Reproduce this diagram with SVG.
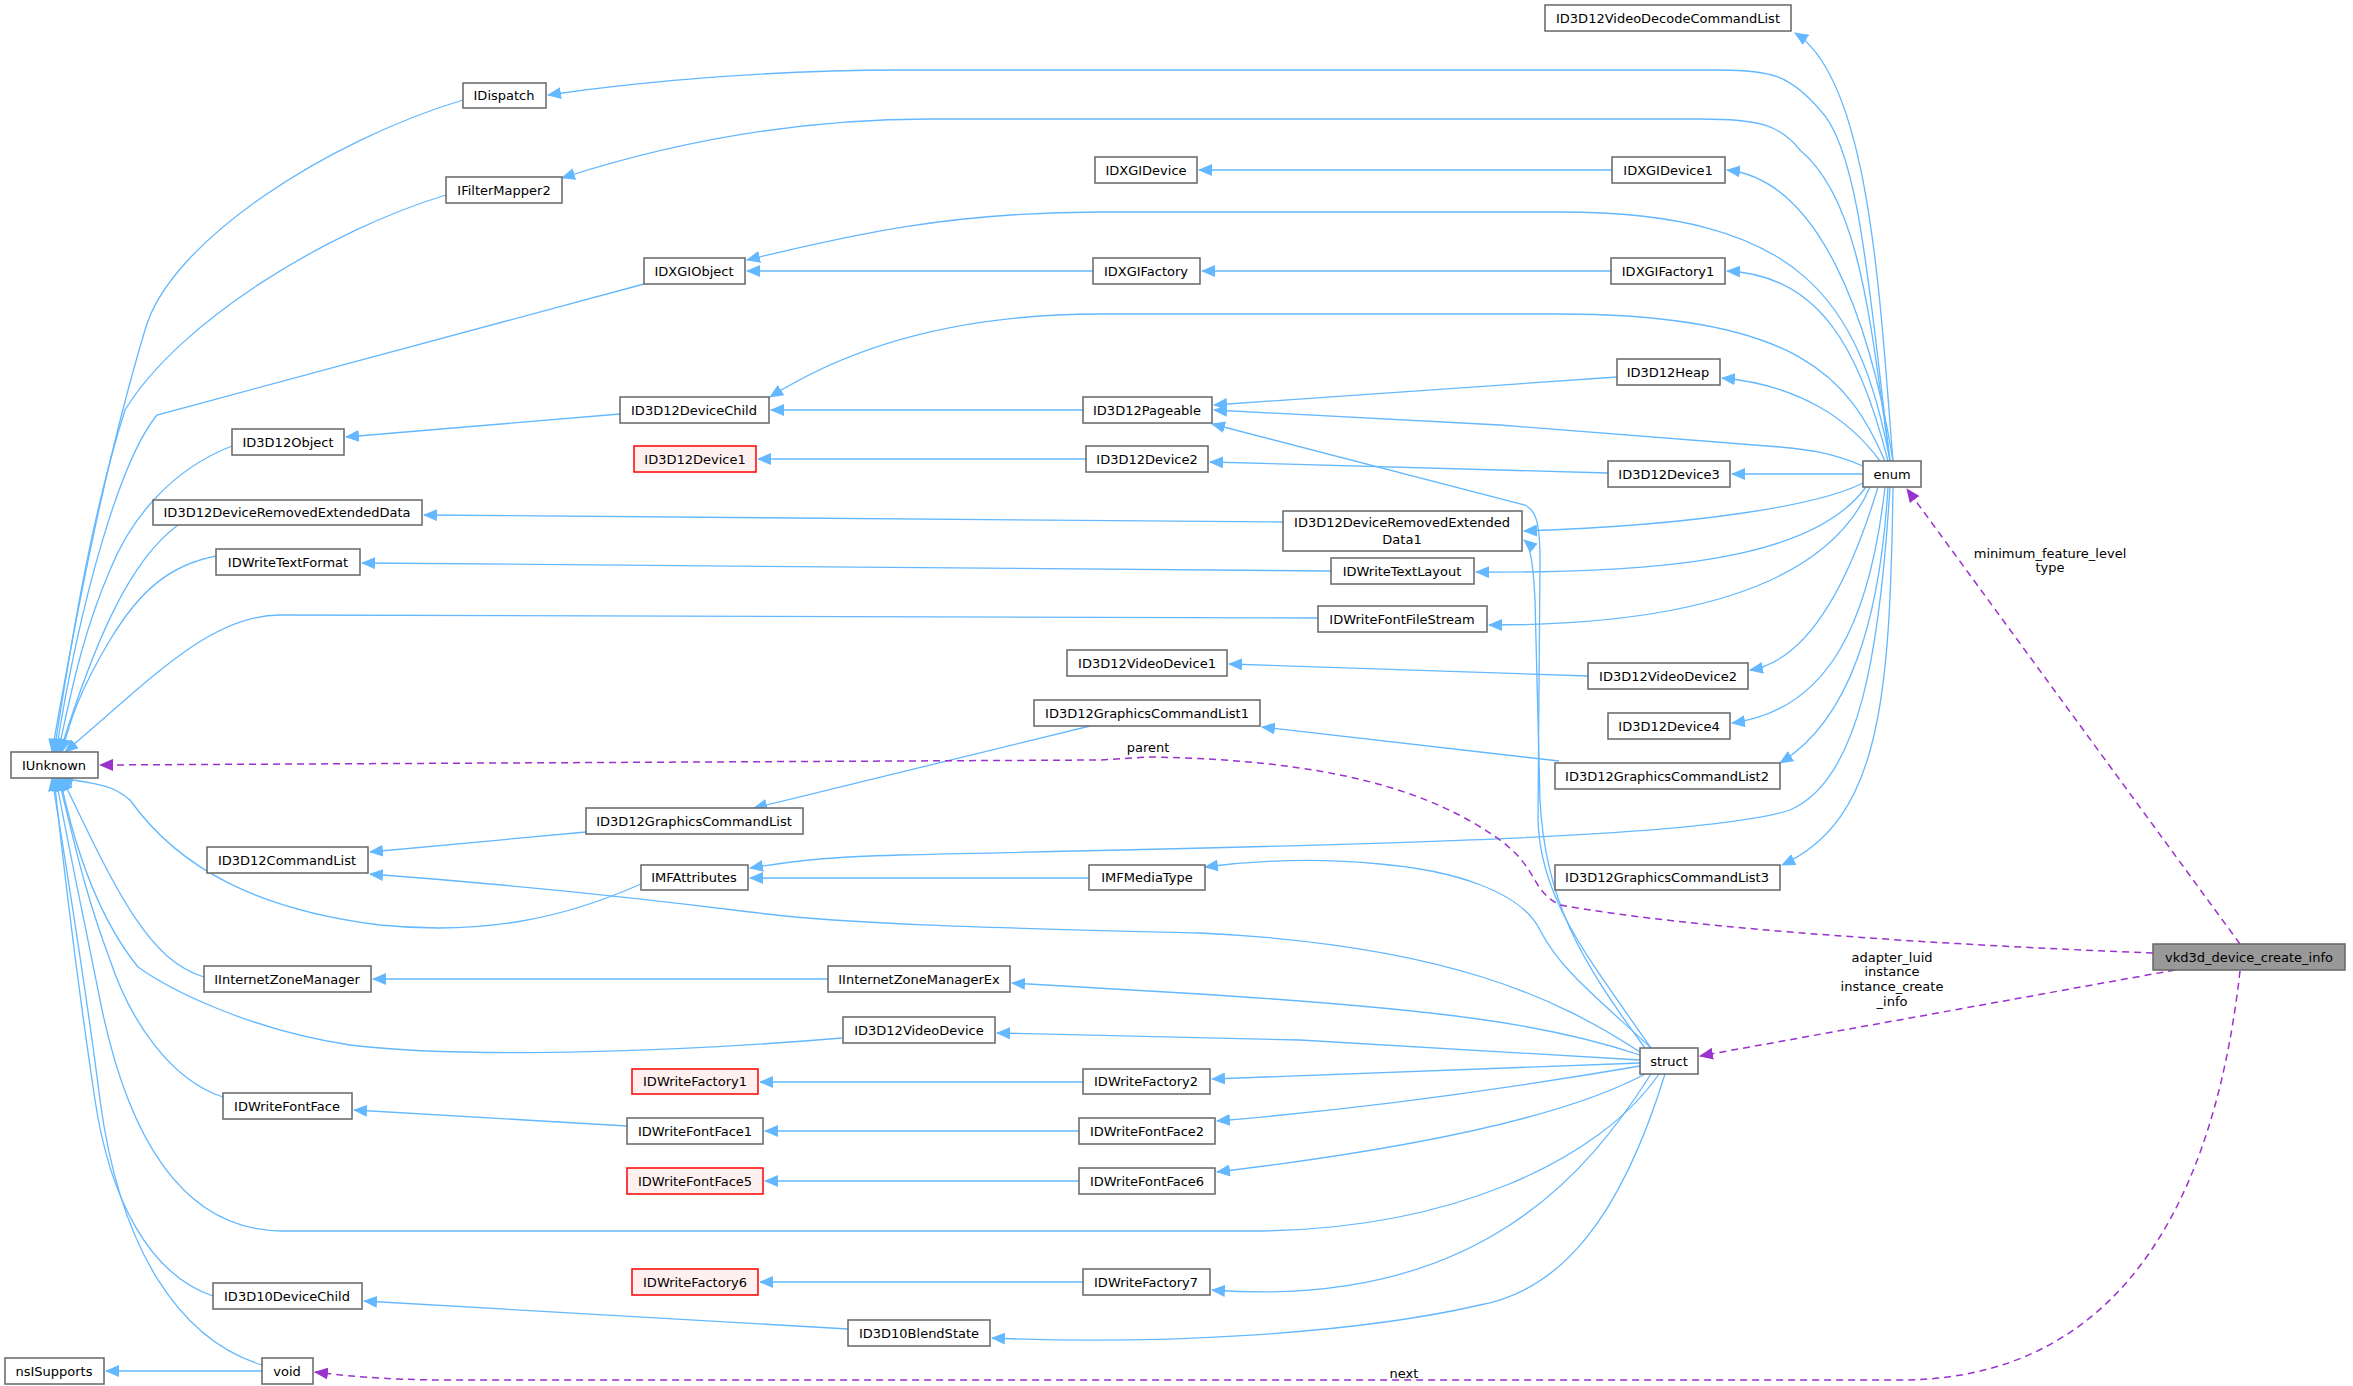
<svg xmlns="http://www.w3.org/2000/svg" width="2353" height="1386" viewBox="0 0 2353 1386">
<style>
.n rect{fill:#fff;stroke:#666;stroke-width:1.5}
.r rect{fill:#fff0f0;stroke:#ff0000;stroke-width:1.5}
.g rect{fill:#999;stroke:#666;stroke-width:1.5}
text{font-family:"DejaVu Sans",sans-serif;font-size:13px;text-anchor:middle;fill:#000}
.e path{fill:none;stroke:#63b8ff;stroke-width:1.3}
.d path{fill:none;stroke:#9a32cd;stroke-width:1.5;stroke-dasharray:7,5}
</style>
<defs>
<marker id="a" markerWidth="14" markerHeight="12" refX="13" refY="6" orient="auto" markerUnits="userSpaceOnUse"><path d="M0,0L14,6L0,12z" fill="#63b8ff"/></marker>
<marker id="p" markerWidth="14" markerHeight="12" refX="13" refY="6" orient="auto" markerUnits="userSpaceOnUse"><path d="M0,0L14,6L0,12z" fill="#9a32cd"/></marker>
</defs>
<rect width="2353" height="1386" fill="#fff"/>
<g class="e" marker-end="url(#a)">
<path d="M1893,461 C1880,300 1870,80 1795,33"/>
<path d="M1890,461 C1870,300 1860,150 1820,110 C1790,75 1770,70 1720,70 L900,70 C780,70 650,80 548,95"/>
<path d="M1890,461 C1870,320 1860,200 1800,150 C1780,125 1760,119 1700,119 L930,119 C800,119 680,140 562,178"/>
<path d="M1893,461 C1870,320 1820,180 1727,170"/>
<path d="M1890,461 C1860,300 1800,212 1560,212 L1100,212 C950,212 850,235 747,260"/>
<path d="M1888,461 C1860,350 1820,275 1727,271"/>
<path d="M1885,461 C1850,380 1800,314 1560,314 L1100,314 C970,314 860,340 770,397"/>
<path d="M1880,461 C1850,420 1800,385 1722,378"/>
<path d="M1863,466 C1830,452 1810,450 1780,447 L1500,425 L1214,410"/>
<path d="M1863,474 L1732,474"/>
<path d="M1863,483 C1820,505 1700,525 1524,531"/>
<path d="M1866,487 C1820,550 1700,574 1476,572"/>
<path d="M1870,487 C1830,580 1700,625 1489,625"/>
<path d="M1878,487 C1850,580 1810,660 1750,670"/>
<path d="M1885,487 C1870,620 1830,710 1732,723"/>
<path d="M1888,487 C1880,620 1850,720 1780,763"/>
<path d="M1890,487 C1880,650 1860,780 1790,810 C1700,840 1300,846 900,855 C830,857 800,860 750,868"/>
<path d="M1893,487 C1890,700 1880,820 1782,865"/>
<path d="M1612,170 L1199,170"/>
<path d="M1611,271 L1202,271"/>
<path d="M1093,271 L747,271"/>
<path d="M1617,377 L1214,405"/>
<path d="M1083,410 L771,410"/>
<path d="M1608,473 L1210,462"/>
<path d="M1086,459 L758,459"/>
<path d="M620,414 L346,437"/>
<path d="M1283,522 L424,515"/>
<path d="M1331,571 L362,563"/>
<path d="M1588,676 L1229,664"/>
<path d="M1559,761 L1262,727"/>
<path d="M1090,726 L754,808"/>
<path d="M586,832 L370,852"/>
<path d="M1089,878 L750,878"/>
<path d="M828,979 L373,979"/>
<path d="M1083,1082 L760,1082"/>
<path d="M627,1126 L354,1110"/>
<path d="M1079,1131 L765,1131"/>
<path d="M1079,1181 L765,1181"/>
<path d="M1083,1282 L760,1282"/>
<path d="M848,1329 L364,1301"/>
<path d="M262,1371 L106,1371"/>
<path d="M463,100 C330,140 170,240 145,330 C100,480 70,650 52,752"/>
<path d="M446,195 C330,230 180,320 125,410 C90,520 70,650 54,752"/>
<path d="M644,284 L157,415 C120,460 80,600 56,752"/>
<path d="M232,446 C170,470 130,520 110,570 C80,640 70,700 58,752"/>
<path d="M178,525 C130,560 95,640 60,752"/>
<path d="M216,556 C170,565 140,590 110,640 C80,690 70,720 62,752"/>
<path d="M1318,618 L280,615 C210,615 150,680 65,752"/>
<path d="M641,884 C560,920 480,935 380,925 C260,910 180,870 130,800 C118,790 112,785 60,778"/>
<path d="M204,977 C150,960 120,900 62,778"/>
<path d="M842,1038 C700,1050 474,1060 350,1045 C250,1030 170,990 138,967 C100,920 75,850 60,778"/>
<path d="M223,1097 C170,1080 130,1020 110,960 C80,880 70,820 58,778"/>
<path d="M1659,1074 C1600,1160 1450,1231 1250,1231 L283,1231 C190,1231 130,1150 100,1000 C80,900 65,830 56,778"/>
<path d="M213,1296 C150,1275 110,1200 95,1100 C80,1000 65,880 54,778"/>
<path d="M262,1365 C180,1340 120,1250 100,1100 C85,980 65,860 52,778"/>
<path d="M1651,1048 C1590,960 1540,900 1538,820 L1540,560 C1540,520 1535,510 1525,505 L1212,424"/>
<path d="M1645,1048 C1580,960 1545,900 1540,800 L1535,600 C1533,560 1530,545 1524,540"/>
<path d="M1651,1048 C1600,1000 1560,970 1540,930 C1520,890 1450,870 1380,864 C1320,858 1260,860 1205,867"/>
<path d="M1640,1052 C1560,1000 1450,945 1200,933 C1000,928 850,925 750,912 C600,893 450,880 370,874"/>
<path d="M1640,1055 C1550,1025 1450,1010 1200,994 L1012,983"/>
<path d="M1640,1060 L1300,1040 L997,1033"/>
<path d="M1640,1063 L1212,1079"/>
<path d="M1640,1066 C1500,1090 1350,1110 1217,1121"/>
<path d="M1645,1074 C1560,1120 1400,1150 1217,1172"/>
<path d="M1651,1074 C1590,1170 1480,1310 1212,1290"/>
<path d="M1665,1074 C1620,1220 1560,1290 1480,1305 C1350,1335 1150,1345 992,1338"/>
</g>
<g class="d" marker-end="url(#p)">
<path d="M2240,944 L1907,489"/>
<path d="M2153,953 C1950,945 1700,930 1560,905 C1530,890 1540,870 1500,840 C1430,790 1330,760 1150,757 L1100,760 L100,765"/>
<path d="M2175,970 L1700,1056"/>
<path d="M2240,971 C2220,1150 2150,1380 1900,1380 L450,1380 C380,1380 340,1375 315,1372"/>
</g>
<g>
<text x="2050" y="558">minimum_feature_level</text>
<text x="2050" y="572">type</text>
<text x="1148" y="752">parent</text>
<text x="1892" y="962">adapter_luid</text>
<text x="1892" y="976">instance</text>
<text x="1892" y="991">instance_create</text>
<text x="1892" y="1006">_info</text>
<text x="1404" y="1378">next</text>
</g>
<g id="n1" class="n"><rect x="1545" y="5" width="246" height="26"/><text x="1668" y="23">ID3D12VideoDecodeCommandList</text></g>
<g id="n2" class="n"><rect x="463" y="83" width="83" height="25"/><text x="504" y="100">IDispatch</text></g>
<g id="n3" class="n"><rect x="446" y="177" width="116" height="26"/><text x="504" y="195">IFilterMapper2</text></g>
<g id="n4" class="n"><rect x="1095" y="157" width="102" height="26"/><text x="1146" y="175">IDXGIDevice</text></g>
<g id="n5" class="n"><rect x="1612" y="157" width="113" height="26"/><text x="1668" y="175">IDXGIDevice1</text></g>
<g id="n6" class="n"><rect x="644" y="258" width="101" height="26"/><text x="694" y="276">IDXGIObject</text></g>
<g id="n7" class="n"><rect x="1093" y="258" width="107" height="26"/><text x="1146" y="276">IDXGIFactory</text></g>
<g id="n8" class="n"><rect x="1611" y="258" width="114" height="26"/><text x="1668" y="276">IDXGIFactory1</text></g>
<g id="n9" class="n"><rect x="1617" y="359" width="103" height="26"/><text x="1668" y="377">ID3D12Heap</text></g>
<g id="n10" class="n"><rect x="620" y="397" width="149" height="26"/><text x="694" y="415">ID3D12DeviceChild</text></g>
<g id="n11" class="n"><rect x="1083" y="397" width="129" height="26"/><text x="1147" y="415">ID3D12Pageable</text></g>
<g id="n12" class="n"><rect x="232" y="429" width="112" height="26"/><text x="288" y="447">ID3D12Object</text></g>
<g id="n13" class="r"><rect x="634" y="446" width="122" height="26"/><text x="695" y="464">ID3D12Device1</text></g>
<g id="n14" class="n"><rect x="1086" y="446" width="122" height="26"/><text x="1147" y="464">ID3D12Device2</text></g>
<g id="n15" class="n"><rect x="1608" y="461" width="122" height="26"/><text x="1669" y="479">ID3D12Device3</text></g>
<g id="n16" class="n"><rect x="1863" y="461" width="58" height="26"/><text x="1892" y="479">enum</text></g>
<g id="n17" class="n"><rect x="153" y="500" width="269" height="25"/><text x="287" y="517">ID3D12DeviceRemovedExtendedData</text></g>
<g id="n18" class="n"><rect x="1283" y="511" width="239" height="40"/><text x="1402" y="527">ID3D12DeviceRemovedExtended</text><text x="1402" y="544">Data1</text></g>
<g id="n19" class="n"><rect x="216" y="549" width="144" height="26"/><text x="288" y="567">IDWriteTextFormat</text></g>
<g id="n20" class="n"><rect x="1331" y="558" width="143" height="26"/><text x="1402" y="576">IDWriteTextLayout</text></g>
<g id="n21" class="n"><rect x="1318" y="606" width="169" height="26"/><text x="1402" y="624">IDWriteFontFileStream</text></g>
<g id="n22" class="n"><rect x="1067" y="650" width="160" height="26"/><text x="1147" y="668">ID3D12VideoDevice1</text></g>
<g id="n23" class="n"><rect x="1588" y="663" width="160" height="26"/><text x="1668" y="681">ID3D12VideoDevice2</text></g>
<g id="n24" class="n"><rect x="1034" y="700" width="226" height="26"/><text x="1147" y="718">ID3D12GraphicsCommandList1</text></g>
<g id="n25" class="n"><rect x="1608" y="713" width="122" height="26"/><text x="1669" y="731">ID3D12Device4</text></g>
<g id="n26" class="n"><rect x="11" y="752" width="87" height="26"/><text x="54" y="770">IUnknown</text></g>
<g id="n27" class="n"><rect x="1555" y="763" width="225" height="26"/><text x="1667" y="781">ID3D12GraphicsCommandList2</text></g>
<g id="n28" class="n"><rect x="586" y="808" width="217" height="26"/><text x="694" y="826">ID3D12GraphicsCommandList</text></g>
<g id="n29" class="n"><rect x="207" y="847" width="161" height="26"/><text x="287" y="865">ID3D12CommandList</text></g>
<g id="n30" class="n"><rect x="641" y="865" width="107" height="25"/><text x="694" y="882">IMFAttributes</text></g>
<g id="n31" class="n"><rect x="1089" y="865" width="116" height="25"/><text x="1147" y="882">IMFMediaType</text></g>
<g id="n32" class="n"><rect x="1555" y="865" width="225" height="25"/><text x="1667" y="882">ID3D12GraphicsCommandList3</text></g>
<g id="n33" class="g"><rect x="2153" y="944" width="192" height="26"/><text x="2249" y="962">vkd3d_device_create_info</text></g>
<g id="n34" class="n"><rect x="204" y="966" width="167" height="26"/><text x="287" y="984">IInternetZoneManager</text></g>
<g id="n35" class="n"><rect x="828" y="966" width="182" height="26"/><text x="919" y="984">IInternetZoneManagerEx</text></g>
<g id="n36" class="n"><rect x="843" y="1017" width="152" height="26"/><text x="919" y="1035">ID3D12VideoDevice</text></g>
<g id="n37" class="n"><rect x="1640" y="1048" width="58" height="26"/><text x="1669" y="1066">struct</text></g>
<g id="n38" class="r"><rect x="632" y="1069" width="126" height="25"/><text x="695" y="1086">IDWriteFactory1</text></g>
<g id="n39" class="n"><rect x="1083" y="1069" width="127" height="25"/><text x="1146" y="1086">IDWriteFactory2</text></g>
<g id="n40" class="n"><rect x="223" y="1093" width="129" height="26"/><text x="287" y="1111">IDWriteFontFace</text></g>
<g id="n41" class="n"><rect x="627" y="1118" width="136" height="26"/><text x="695" y="1136">IDWriteFontFace1</text></g>
<g id="n42" class="n"><rect x="1079" y="1118" width="136" height="26"/><text x="1147" y="1136">IDWriteFontFace2</text></g>
<g id="n43" class="r"><rect x="627" y="1168" width="136" height="26"/><text x="695" y="1186">IDWriteFontFace5</text></g>
<g id="n44" class="n"><rect x="1079" y="1168" width="136" height="26"/><text x="1147" y="1186">IDWriteFontFace6</text></g>
<g id="n45" class="r"><rect x="632" y="1269" width="126" height="26"/><text x="695" y="1287">IDWriteFactory6</text></g>
<g id="n46" class="n"><rect x="1083" y="1269" width="127" height="26"/><text x="1146" y="1287">IDWriteFactory7</text></g>
<g id="n47" class="n"><rect x="213" y="1283" width="149" height="26"/><text x="287" y="1301">ID3D10DeviceChild</text></g>
<g id="n48" class="n"><rect x="848" y="1320" width="142" height="26"/><text x="919" y="1338">ID3D10BlendState</text></g>
<g id="n49" class="n"><rect x="5" y="1358" width="99" height="26"/><text x="54" y="1376">nsISupports</text></g>
<g id="n50" class="n"><rect x="262" y="1358" width="51" height="26"/><text x="287" y="1376">void</text></g>
</svg>
